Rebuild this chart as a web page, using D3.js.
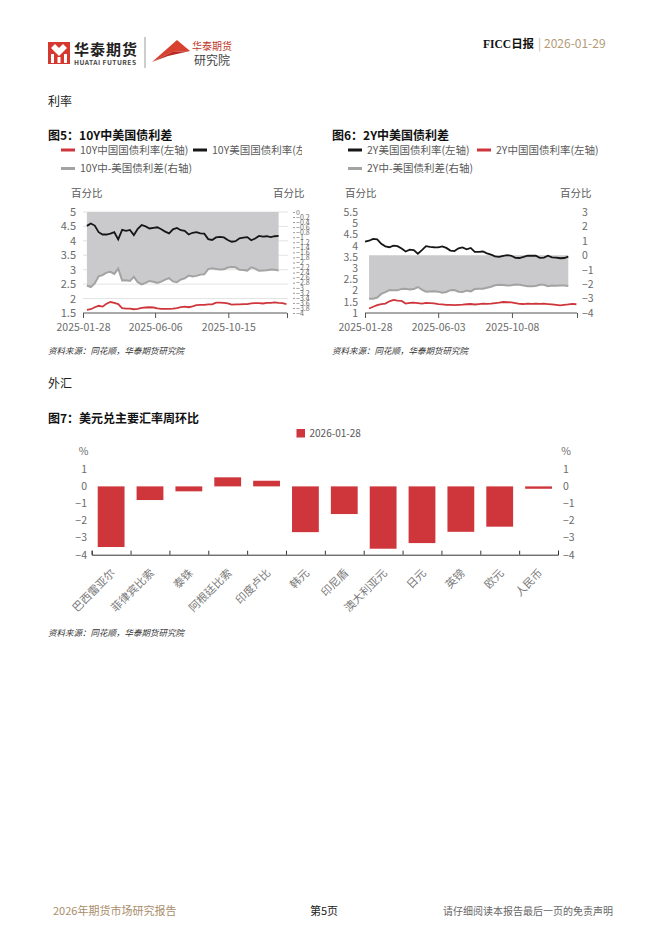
<!DOCTYPE html>
<html><head><meta charset="utf-8">
<script src="https://cdn.jsdelivr.net/npm/d3@7/dist/d3.min.js"></script>
<style>
body{margin:0;background:#fff;}
svg text{font-family:"Noto Sans CJK SC","Noto Sans",sans-serif;}
</style></head><body>
<svg id="c" width="662" height="936"></svg>
<script>
// ---------- DATA ----------
const weekStart = new Date(2025, 0, 28);
const weeks = d3.range(53).map(i => d3.timeDay.offset(weekStart, 7 * i));

// Fig 5: 10Y (weekly samples)
const us10 = [4.52,4.60,4.53,4.30,4.22,4.22,4.25,4.30,4.05,4.38,4.35,4.38,4.20,4.42,4.55,4.50,4.43,4.45,4.47,4.40,4.32,4.26,4.40,4.45,4.37,4.35,4.22,4.28,4.30,4.26,4.25,4.06,4.03,4.12,4.14,4.12,4.03,3.97,3.99,4.09,4.11,4.13,4.02,4.08,4.17,4.15,4.16,4.13,4.16,4.17]; // weeks 1..50
const cn10 = [1.61,1.63,1.70,1.75,1.72,1.82,1.88,1.85,1.81,1.67,1.65,1.65,1.63,1.64,1.68,1.69,1.70,1.69,1.66,1.64,1.64,1.64,1.65,1.67,1.70,1.72,1.70,1.73,1.77,1.78,1.78,1.80,1.80,1.86,1.86,1.85,1.83,1.79,1.80,1.80,1.81,1.81,1.83,1.84,1.84,1.83,1.85,1.85,1.87,1.85,1.84,1.81]; // weeks 1..52
const spread10 = [-2.91,-2.97,-2.83,-2.55,-2.50,-2.40,-2.37,-2.45,-2.24,-2.71,-2.70,-2.73,-2.57,-2.78,-2.87,-2.81,-2.73,-2.76,-2.81,-2.76,-2.68,-2.62,-2.75,-2.78,-2.67,-2.63,-2.52,-2.55,-2.53,-2.48,-2.47,-2.26,-2.23,-2.26,-2.28,-2.27,-2.20,-2.18,-2.19,-2.29,-2.30,-2.32,-2.19,-2.24,-2.33,-2.32,-2.31,-2.28,-2.29,-2.32]; // weeks 1..50

// Fig 6: 2Y
const us2 = [4.18,4.22,4.30,4.28,4.08,3.97,3.93,4.00,3.98,3.87,3.74,3.82,3.80,3.64,3.80,3.98,3.95,3.93,3.92,3.97,3.90,3.78,3.76,3.88,3.92,3.84,3.90,3.72,3.72,3.74,3.66,3.60,3.52,3.50,3.55,3.58,3.55,3.46,3.45,3.50,3.56,3.55,3.55,3.46,3.47,3.55,3.48,3.47,3.44,3.45,3.51]; // weeks 0..50
const cn2 = [1.20,1.28,1.35,1.40,1.42,1.52,1.58,1.55,1.54,1.42,1.45,1.46,1.44,1.42,1.45,1.44,1.43,1.40,1.38,1.36,1.36,1.35,1.36,1.37,1.39,1.40,1.38,1.40,1.42,1.41,1.42,1.44,1.46,1.49,1.48,1.47,1.44,1.41,1.40,1.42,1.41,1.42,1.41,1.42,1.40,1.38,1.36,1.34,1.36,1.38,1.41,1.39]; // weeks 1..52
const spread2 = [-3.02,-3.02,-2.93,-2.68,-2.55,-2.41,-2.42,-2.43,-2.33,-2.32,-2.37,-2.34,-2.20,-2.38,-2.53,-2.51,-2.50,-2.52,-2.59,-2.54,-2.42,-2.41,-2.52,-2.55,-2.45,-2.50,-2.34,-2.32,-2.32,-2.25,-2.18,-2.08,-2.04,-2.06,-2.10,-2.08,-2.02,-2.04,-2.10,-2.14,-2.14,-2.13,-2.05,-2.05,-2.15,-2.10,-2.11,-2.10,-2.09,-2.13]; // weeks 1..50

const xTicks5 = ["2025-01-28","2025-06-06","2025-10-15"];
const xTicks6 = ["2025-01-28","2025-06-03","2025-10-08"];
const yTicksL5 = [1.5,2,2.5,3,3.5,4,4.5,5];
const yTicksL6 = [1,1.5,2,2.5,3,3.5,4,4.5,5,5.5];
const yTicksR6 = [-4,-3,-2,-1,0,1,2,3];

// Fig 7
const fxCategories = ["巴西雷亚尔","菲律宾比索","泰铢","阿根廷比索","印度卢比","韩元","印尼盾","澳大利亚元","日元","英镑","欧元","人民币"];
const fxValues = [-3.55,-0.80,-0.29,0.53,0.33,-2.68,-1.62,-3.65,-3.32,-2.66,-2.36,-0.14];
const fxTicks = [-4,-3,-2,-1,0,1];

// ---------- DRAW ----------
const svg = d3.select("#c");
const parse = d3.timeParse("%Y-%m-%d");
const RED = "#cf363c", BLACK = "#161616", GRAY = "#a3a3a3", AREA = "#cacacc", TXT = "#6b6b6b";

// header
const logo = svg.append("g");
logo.append("rect").attr("x",48).attr("y",42).attr("width",22).attr("height",22).attr("fill","#d6372e");
logo.append("path").attr("d","M51 48 L55 44 L59 48 L55 52 Z M59 48 L63 44 L67 48 L63 52 Z M55 52 L59 48 L63 52 L59 56 Z").attr("fill","#fff");
logo.append("rect").attr("x",51).attr("y",54).attr("width",3).attr("height",9).attr("fill","#fff");
logo.append("rect").attr("x",64).attr("y",54).attr("width",3).attr("height",9).attr("fill","#fff");
logo.append("rect").attr("x",57.5).attr("y",57).attr("width",3).attr("height",6).attr("fill","#fff");
svg.append("text").attr("x",74).attr("y",55).attr("font-size",15).attr("font-weight",700).attr("fill","#222").attr("letter-spacing",1).text("华泰期货");
svg.append("text").attr("x",74).attr("y",65).attr("font-size",6.6).attr("font-weight",700).attr("fill","#444").attr("textLength",62).text("HUATAI FUTURES");
svg.append("line").attr("x1",145).attr("x2",145).attr("y1",37).attr("y2",68).attr("stroke","#9a9a9a");
svg.append("path").attr("d","M152 62 L177 40 L190 51 L172 52 Z").attr("fill","#d8402f");
svg.append("path").attr("d","M152 62 L172 52 L190 51 L168 56 Z").attr("fill","#b82a22");
svg.append("text").attr("x",192).attr("y",50).attr("font-size",10).attr("fill","#c0392b").text("华泰期货");
svg.append("text").attr("x",194).attr("y",64.5).attr("font-size",12).attr("fill","#444").text("研究院");

const hdr = svg.append("text").attr("x",483).attr("y",48).attr("font-size",11.5).attr("font-weight",700).attr("fill","#111");
hdr.append("tspan").attr("font-family","'Liberation Serif',serif").text("FICC");
hdr.append("tspan").text("日报");
svg.append("text").attr("x",538).attr("y",48).attr("font-size",12).attr("fill","#c8b8a0").text("|");
svg.append("text").attr("x",544).attr("y",48).attr("font-size",12).attr("fill","#b49a76").text("2026-01-29");

// section titles
svg.append("text").attr("x",48).attr("y",106).attr("font-size",12).attr("fill","#222").text("利率");
svg.append("text").attr("x",48).attr("y",388).attr("font-size",12).attr("fill","#222").text("外汇");

function title(x, y, t) {
  svg.append("text").attr("x",x).attr("y",y).attr("font-size",12).attr("font-weight",700).attr("fill","#111").text(t);
}
title(48,139.5,"图5：10Y中美国债利差");
title(332,139.5,"图6：2Y中美国债利差");
title(48,423,"图7：美元兑主要汇率周环比");

function legendItem(g, x, y, color, t) {
  g.append("line").attr("x1",x).attr("x2",x+14).attr("y1",y).attr("y2",y).attr("stroke",color).attr("stroke-width",3);
  g.append("text").attr("x",x+19).attr("y",y).attr("dy","0.35em").attr("font-size",10.5).attr("fill","#595959").text(t);
}
svg.append("defs").append("clipPath").attr("id","clip5").append("rect").attr("x",40).attr("y",140).attr("width",262).attr("height",40);
const leg5 = svg.append("g").attr("clip-path","url(#clip5)");
legendItem(leg5,61,150,RED,"10Y中国国债利率(左轴)");
legendItem(leg5,193,150,BLACK,"10Y美国国债利率(左轴)");
legendItem(leg5,61,168.5,GRAY,"10Y中-美国债利差(右轴)");
const leg6 = svg.append("g");
legendItem(leg6,348,150,BLACK,"2Y美国国债利率(左轴)");
legendItem(leg6,477,150,RED,"2Y中国国债利率(左轴)");
legendItem(leg6,348,168.5,GRAY,"2Y中-美国债利差(右轴)");

function styleAxis(g, size) {
  g.select(".domain").remove();
  g.selectAll("text").attr("font-size",size).attr("fill",TXT).attr("font-family",'"Noto Sans CJK SC","Noto Sans",sans-serif');
}

// ---------- Figure 5 ----------
{
  const x = d3.scaleTime().domain([parse("2025-01-28"), parse("2026-01-28")]).range([83,287]);
  const yL = d3.scaleLinear().domain([1.5,5]).range([313,212]);
  const yR = d3.scaleLinear().domain([-4,0]).range([313,212]);
  const g = svg.append("g");
  g.append("text").attr("x",71).attr("y",193).attr("dy","0.35em").attr("font-size",10.5).attr("fill","#595959").text("百分比");
  g.append("text").attr("x",273).attr("y",193).attr("dy","0.35em").attr("font-size",10.5).attr("fill","#595959").text("百分比");
  g.selectAll(".gl").data(yTicksL5.slice(1)).join("line").attr("x1",83).attr("x2",288)
    .attr("y1",d=>yL(d)).attr("y2",d=>yL(d)).attr("stroke","#e3e3e3");
  const sp = spread10.map((v,i)=>({d:weeks[i+1],v}));
  g.append("path").datum(sp).attr("fill",AREA)
    .attr("d",d3.area().x(d=>x(d.d)).y0(yR(0)).y1(d=>yR(d.v)));
  g.append("path").datum(sp).attr("fill","none").attr("stroke",GRAY).attr("stroke-width",2)
    .attr("d",d3.line().x(d=>x(d.d)).y(d=>yR(d.v)));
  g.append("path").datum(us10.map((v,i)=>({d:weeks[i+1],v}))).attr("fill","none").attr("stroke",BLACK).attr("stroke-width",1.8)
    .attr("d",d3.line().x(d=>x(d.d)).y(d=>yL(d.v)));
  g.append("path").datum(cn10.map((v,i)=>({d:weeks[i+1],v}))).attr("fill","none").attr("stroke",RED).attr("stroke-width",1.8)
    .attr("d",d3.line().x(d=>x(d.d)).y(d=>yL(d.v)));
  const ax = g.append("g").attr("transform","translate(0,313)")
    .call(d3.axisBottom(x).tickValues([...xTicks5.map(parse), parse("2026-01-28")]).tickSize(5).tickPadding(6)
      .tickFormat((d,i)=> i < xTicks5.length ? xTicks5[i] : ""));
  styleAxis(ax,10.5);
  ax.append("line").attr("x1",83).attr("x2",287).attr("stroke","#555");
  ax.selectAll(".tick line").attr("stroke","#555");
  const al = g.append("g").attr("transform","translate(80,0)")
    .call(d3.axisLeft(yL).tickValues(yTicksL5).tickSize(0).tickPadding(4).tickFormat(d3.format("")));
  styleAxis(al,11);
  const ar = g.append("g").attr("transform","translate(293,0)")
    .call(d3.axisRight(yR).ticks(20).tickSize(2).tickPadding(1).tickFormat(d3.format("")));
  styleAxis(ar,7);
  ar.selectAll(".tick line").attr("stroke","#999");
}

// ---------- Figure 6 ----------
{
  const x = d3.scaleTime().domain([parse("2025-01-28"), parse("2026-01-28")]).range([365,577]);
  const yL = d3.scaleLinear().domain([1,5.5]).range([313,212]);
  const yR = d3.scaleLinear().domain([-4,3]).range([313,212]);
  const g = svg.append("g");
  g.append("text").attr("x",345).attr("y",193).attr("dy","0.35em").attr("font-size",10.5).attr("fill","#595959").text("百分比");
  g.append("text").attr("x",560).attr("y",193).attr("dy","0.35em").attr("font-size",10.5).attr("fill","#595959").text("百分比");
  const sp = spread2.map((v,i)=>({d:weeks[i+1],v}));
  g.append("path").datum(sp).attr("fill",AREA)
    .attr("d",d3.area().x(d=>x(d.d)).y0(yR(0)).y1(d=>yR(d.v)));
  g.append("path").datum(sp).attr("fill","none").attr("stroke",GRAY).attr("stroke-width",2)
    .attr("d",d3.line().x(d=>x(d.d)).y(d=>yR(d.v)));
  g.append("path").datum(us2.map((v,i)=>({d:weeks[i],v}))).attr("fill","none").attr("stroke",BLACK).attr("stroke-width",1.8)
    .attr("d",d3.line().x(d=>x(d.d)).y(d=>yL(d.v)));
  g.append("path").datum(cn2.map((v,i)=>({d:weeks[i+1],v}))).attr("fill","none").attr("stroke",RED).attr("stroke-width",1.8)
    .attr("d",d3.line().x(d=>x(d.d)).y(d=>yL(d.v)));
  const ax = g.append("g").attr("transform","translate(0,313)")
    .call(d3.axisBottom(x).tickValues([...xTicks6.map(parse), parse("2026-01-28")]).tickSize(5).tickPadding(6)
      .tickFormat((d,i)=> i < xTicks6.length ? xTicks6[i] : ""));
  styleAxis(ax,10.5);
  ax.append("line").attr("x1",365).attr("x2",577).attr("stroke","#555");
  ax.selectAll(".tick line").attr("stroke","#555");
  const al = g.append("g").attr("transform","translate(362,0)")
    .call(d3.axisLeft(yL).tickValues(yTicksL6).tickSize(0).tickPadding(4).tickFormat(d3.format("")));
  styleAxis(al,10.5);
  const ar = g.append("g").attr("transform","translate(578,0)")
    .call(d3.axisRight(yR).tickValues(yTicksR6).tickSize(0).tickPadding(4).tickFormat(d3.format("")));
  styleAxis(ar,10.5);
}

// ---------- Figure 7 ----------
{
  const x = d3.scaleBand().domain(fxCategories).range([91.7,558]).paddingInner(0.31).paddingOuter(0.155);
  const xi = d3.scaleLinear().domain([0,fxCategories.length]).range([91.7,558]);
  const y = d3.scaleLinear().domain([-4,1]).range([554.7,469.3]);
  const g = svg.append("g");
  g.append("rect").attr("x",296.5).attr("y",429).attr("width",8.5).attr("height",8.5).attr("fill",RED);
  g.append("text").attr("x",309.5).attr("y",433.3).attr("dy","0.35em").attr("font-size",10).attr("fill","#595959").text("2026-01-28");
  g.append("text").attr("x",83.5).attr("y",451.5).attr("dy","0.35em").attr("text-anchor","middle").attr("font-size",10.5).attr("fill",TXT).text("%");
  g.append("text").attr("x",566).attr("y",451.5).attr("dy","0.35em").attr("text-anchor","middle").attr("font-size",10.5).attr("fill",TXT).text("%");
  g.selectAll(".bar").data(fxValues).join("rect")
    .attr("x",(d,i)=>x(fxCategories[i])).attr("width",x.bandwidth())
    .attr("y",d=>y(Math.max(0,d))).attr("height",d=>Math.abs(y(d)-y(0))).attr("fill",RED);
  const al = g.append("g").attr("transform","translate(89,0)")
    .call(d3.axisLeft(y).tickValues(fxTicks).tickSize(0).tickPadding(2).tickFormat(d3.format("")));
  styleAxis(al,10.5);
  const ar = g.append("g").attr("transform","translate(561,0)")
    .call(d3.axisRight(y).tickValues(fxTicks).tickSize(0).tickPadding(2).tickFormat(d3.format("")));
  styleAxis(ar,10.5);
  const ab = g.append("g").attr("transform",`translate(0,${y(-4)})`)
    .call(d3.axisBottom(xi).tickValues(d3.range(fxCategories.length+1)).tickSize(-4).tickFormat(""));
  ab.select(".domain").attr("stroke","#333");
  ab.selectAll(".tick line").attr("stroke","#333");
  g.selectAll(".xl").data(fxCategories).join("text")
    .attr("transform",d=>`translate(${x(d)+x.bandwidth()/2+2},571) rotate(-45)`)
    .attr("text-anchor","end").attr("dy","0.35em").attr("font-size",11).attr("fill","#7a7a7a").text(d=>d);
}

// sources
function source(x,y){
  svg.append("text").attr("x",x).attr("y",y).attr("font-size",8.5).attr("font-style","italic").attr("fill","#333").text("资料来源：同花顺，华泰期货研究院");
}
source(48,354);
source(332,354);
source(48,636);

// footer
svg.append("text").attr("x",53).attr("y",915).attr("font-size",11).attr("fill","#a88d6a").text("2026年期货市场研究报告");
svg.append("text").attr("x",310).attr("y",915).attr("font-size",11).attr("fill","#222").text("第5页");
svg.append("text").attr("x",613).attr("y",915).attr("text-anchor","end").attr("font-size",10).attr("fill","#666").text("请仔细阅读本报告最后一页的免责声明");
</script></body></html>
